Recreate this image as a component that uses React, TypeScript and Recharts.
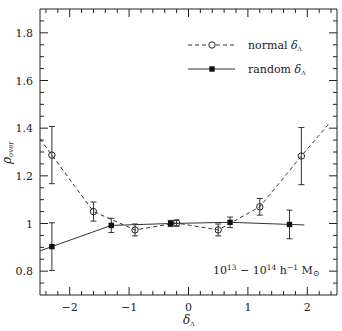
import React from 'react';
import { ComposedChart, Line, Scatter, XAxis, YAxis, ErrorBar, ReferenceArea } from 'recharts';

// normal delta_Lambda sample (open circles, dashed)
const normalDelta = [-2.3, -1.6, -0.9, -0.2, 0.5, 1.2, 1.9];
const normalRho = [1.287, 1.05, 0.973, 1.002, 0.973, 1.07, 1.283];
const normalErr = [0.12, 0.04, 0.025, 0.013, 0.025, 0.035, 0.12];
// the dashed curve runs on past the outermost points
const normalCurveStart = { x: -2.5, y: 1.355 };
const normalCurveEnd = { x: 2.35, y: 1.415 };

// random delta_Lambda sample (filled squares, solid)
const randomDelta = [-2.3, -1.3, -0.3, 0.7, 1.7];
const randomRho = [0.903, 0.992, 1.0, 1.005, 0.996];
const randomErr = [0.1, 0.03, 0.013, 0.022, 0.06];
const randomCurveStart = { x: -2.5, y: 0.885 };
const randomCurveEnd = { x: 1.95, y: 0.994 };

const xMajorTicks = [-2, -1, 0, 1, 2];
const xTickLabels = ['\u22122', '\u22121', '0', '1', '2'];
const yMajorTicks = [0.8, 1, 1.2, 1.4, 1.6, 1.8];
const yTickLabels = ['0.8', '1', '1.2', '1.4', '1.6', '1.8'];

const stepTicks = (from: number, to: number, step: number) => {
  const out: number[] = [];
  const n = Math.round((to - from) / step);
  for (let i = 0; i <= n; i++) out.push(Math.round((from + i * step) * 1000) / 1000);
  return out;
};
const xAllTicks = stepTicks(-2.4, 2.4, 0.2);
const yAllTicks = stepTicks(0.75, 1.85, 0.05);

const normalPoints = normalDelta.map((x, i) => ({ x, y: normalRho[i], err: normalErr[i] }));
const randomPoints = randomDelta.map((x, i) => ({ x, y: randomRho[i], err: randomErr[i] }));
const normalCurve = [normalCurveStart, ...normalPoints, normalCurveEnd];
const randomCurve = [randomCurveStart, ...randomPoints, randomCurveEnd];

const W = 342;
const H = 331;
const PLOT_W = 297;
const PLOT_H = 286;
const INK = '#222';
const FONT = '"DejaVu Serif", serif';
const MAJOR = 8;
const MINOR = 4;

const findIdx = (arr: number[], v: number) => arr.findIndex((t) => Math.abs(t - v) < 1e-6);

const XTick = (props: any) => {
  const { x, y, payload } = props;
  const idx = findIdx(xMajorTicks, payload.value);
  const len = idx >= 0 ? MAJOR : MINOR;
  return (
    <g>
      <line x1={x} x2={x} y1={y} y2={y - len} stroke={INK} strokeWidth={1} />
      <line x1={x} x2={x} y1={y - PLOT_H} y2={y - PLOT_H + len} stroke={INK} strokeWidth={1} />
      {idx >= 0 && (
        <text x={x} y={y + 16} textAnchor="middle" fontFamily={FONT} fontSize={11} fill={INK}>
          {xTickLabels[idx]}
        </text>
      )}
    </g>
  );
};

const YTick = (props: any) => {
  const { x, y, payload } = props;
  const idx = findIdx(yMajorTicks, payload.value);
  const len = idx >= 0 ? MAJOR : MINOR;
  return (
    <g>
      <line x1={x} x2={x + len} y1={y} y2={y} stroke={INK} strokeWidth={1} />
      <line x1={x + PLOT_W} x2={x + PLOT_W - len} y1={y} y2={y} stroke={INK} strokeWidth={1} />
      {idx >= 0 && (
        <text x={x - 7} y={y + 4} textAnchor="end" fontFamily={FONT} fontSize={11} fill={INK}>
          {yTickLabels[idx]}
        </text>
      )}
    </g>
  );
};

const OpenCircle = (props: any) => {
  const { cx, cy } = props;
  return <circle cx={cx} cy={cy} r={3.2} fill="none" stroke={INK} strokeWidth={1} />;
};

const FilledSquare = (props: any) => {
  const { cx, cy } = props;
  return <rect x={cx - 2.7} y={cy - 2.7} width={5.4} height={5.4} fill="#111" />;
};

export default function App() {
  return (
    <div style={{ position: 'absolute', left: 0, top: 0, width: W, height: H, background: '#fff' }}>
      <ComposedChart width={W} height={H} margin={{ top: 9, right: 5, bottom: 0, left: 0 }}>
        <XAxis
          dataKey="x"
          type="number"
          domain={[-2.5, 2.5]}
          ticks={xAllTicks}
          interval={0}
          height={36}
          axisLine={false}
          tickLine={false}
          tickSize={0}
          tickMargin={0}
          tick={<XTick />}
          allowDataOverflow
        />
        <YAxis
          type="number"
          domain={[0.7, 1.9]}
          ticks={yAllTicks}
          interval={0}
          width={40}
          axisLine={false}
          tickLine={false}
          tickSize={0}
          tickMargin={0}
          tick={<YTick />}
          allowDataOverflow
        />
        <ReferenceArea
          x1={-2.5}
          x2={2.5}
          y1={0.7}
          y2={1.9}
          fill="none"
          fillOpacity={0}
          stroke={INK}
          strokeWidth={1}
          ifOverflow="visible"
        />
        <Line
          data={normalCurve}
          dataKey="y"
          type="linear"
          stroke="#333"
          strokeWidth={1}
          strokeDasharray="4 3"
          dot={false}
          activeDot={false}
          isAnimationActive={false}
        />
        <Line
          data={randomCurve}
          dataKey="y"
          type="linear"
          stroke="#333"
          strokeWidth={1}
          dot={false}
          activeDot={false}
          isAnimationActive={false}
        />
        <Scatter data={normalPoints} dataKey="y" shape={<OpenCircle />} isAnimationActive={false}>
          <ErrorBar dataKey="err" direction="y" width={3} stroke="#333" strokeWidth={1} isAnimationActive={false} />
        </Scatter>
        <Scatter data={randomPoints} dataKey="y" shape={<FilledSquare />} isAnimationActive={false}>
          <ErrorBar dataKey="err" direction="y" width={3} stroke="#333" strokeWidth={1} isAnimationActive={false} />
        </Scatter>
      </ComposedChart>
      <svg
        width={W}
        height={H}
        style={{ position: 'absolute', left: 0, top: 0, pointerEvents: 'none' }}
        fontFamily={FONT}
        fill={INK}
      >
        {/* legend */}
        <line x1={188} x2={235} y1={45} y2={45} stroke="#333" strokeDasharray="4 3" />
        <circle cx={212} cy={45} r={3.2} fill="#fff" stroke={INK} />
        <text x={248} y={49} fontSize={11}>
          normal <tspan fontStyle="italic">δ</tspan>
          <tspan fontSize={6} dy={2}>Λ</tspan>
        </text>
        <line x1={188} x2={235} y1={69} y2={69} stroke="#333" />
        <rect x={209.3} y={66.3} width={5.4} height={5.4} fill="#111" />
        <text x={248} y={73} fontSize={11}>
          random <tspan fontStyle="italic">δ</tspan>
          <tspan fontSize={6} dy={2}>Λ</tspan>
        </text>

        {/* mass range */}
        <text x={213} y={274} fontSize={11}>
          10<tspan fontSize={7.5} dy={-4}>13</tspan>
          <tspan dy={4}> − 10</tspan>
          <tspan fontSize={7.5} dy={-4}>14</tspan>
          <tspan dy={4}> h</tspan>
          <tspan fontSize={7.5} dy={-4}>−1</tspan>
          <tspan dy={4}> M</tspan>
          <tspan fontSize={8} dy={2}>⊙</tspan>
        </text>

        {/* axis titles */}
        <text x={183} y={324} fontSize={12} fontStyle="italic">
          δ<tspan fontSize={6} dy={2} fontStyle="normal">Λ</tspan>
        </text>
        <text x={11} y={164} fontSize={12} fontStyle="italic" transform="rotate(-90 11 164)">
          ρ<tspan fontSize={7} dy={2} fontStyle="normal">over</tspan>
        </text>
      </svg>
    </div>
  );
}
